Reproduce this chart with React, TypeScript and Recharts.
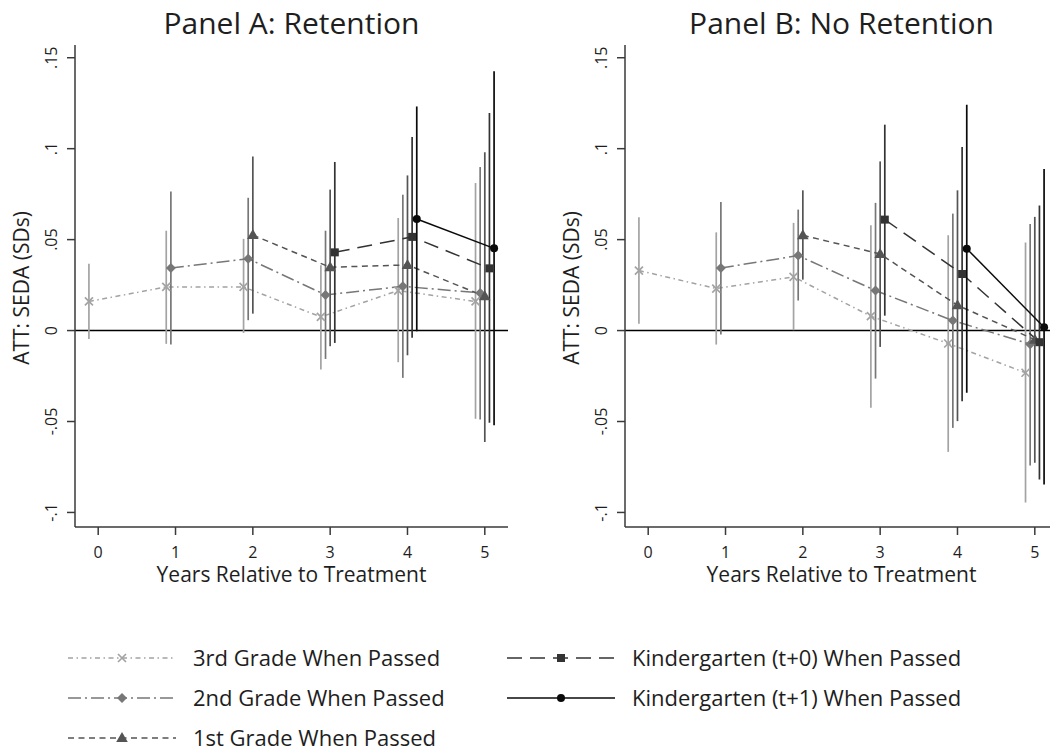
import { ComposedChart, Line, XAxis, YAxis, ErrorBar, ReferenceLine } from "recharts"

// series, in legend order
const SERIES_NAMES = [
  "3rd Grade When Passed",
  "2nd Grade When Passed",
  "1st Grade When Passed",
  "Kindergarten (t+0) When Passed",
  "Kindergarten (t+1) When Passed",
]
const SERIES_YEARS = [
  [0, 1, 2, 3, 4, 5],
  [1, 2, 3, 4, 5],
  [2, 3, 4, 5],
  [3, 4, 5],
  [4, 5],
]
const X_OFFSETS = [-0.12, -0.06, 0, 0.06, 0.12]

const YEAR_TICKS = [0, 1, 2, 3, 4, 5]
const Y_TICKS = [-0.1, -0.05, 0, 0.05, 0.1, 0.15]
const Y_TICK_LABELS = ["-.1", "-.05", "0", ".05", ".1", ".15"]

// Panel A: Retention
const retentionEst = [
  [0.016, 0.024, 0.024, 0.0075, 0.022, 0.016],
  [0.0344, 0.0395, 0.0196, 0.0243, 0.0207],
  [0.0525, 0.0348, 0.0361, 0.0188],
  [0.043, 0.0515, 0.0342],
  [0.0613, 0.0452],
]
const retentionLo = [
  [-0.0046, -0.0073, -0.0013, -0.0214, -0.0174, -0.0485],
  [-0.0077, 0.0057, -0.0156, -0.026, -0.0489],
  [0.0093, -0.0086, -0.0136, -0.0613],
  [-0.0068, -0.004, -0.0507],
  [-0.0004, -0.052],
]
const retentionHi = [
  [0.0368, 0.0549, 0.0504, 0.0359, 0.0619, 0.0811],
  [0.0765, 0.073, 0.0549, 0.0747, 0.0899],
  [0.0957, 0.0775, 0.0853, 0.098],
  [0.0927, 0.1064, 0.1196],
  [0.1232, 0.1425],
]

// Panel B: No Retention
const noRetentionEst = [
  [0.033, 0.0231, 0.0295, 0.0079, -0.0071, -0.0232],
  [0.0344, 0.0412, 0.022, 0.0055, -0.0075],
  [0.0524, 0.0421, 0.0139, -0.005],
  [0.061, 0.0311, -0.0064],
  [0.045, 0.0018],
]
const noRetentionLo = [
  [0.0037, -0.0077, 0.0002, -0.0425, -0.0667, -0.0945],
  [-0.0022, 0.0165, -0.0264, -0.0535, -0.0742],
  [0.028, -0.009, -0.0498, -0.0727],
  [0.0082, -0.0388, -0.0819],
  [-0.0342, -0.0846],
]
const noRetentionHi = [
  [0.0623, 0.054, 0.0592, 0.0579, 0.0524, 0.0484],
  [0.0707, 0.0665, 0.0702, 0.0643, 0.0586],
  [0.0771, 0.093, 0.0771, 0.0625],
  [0.1132, 0.1009, 0.0687],
  [0.1242, 0.0888],
]

const COLORS = ["#a3a3a3", "#777777", "#545454", "#333333", "#0a0a0a"]
const DASHES = ["5 3.5 1.5 3.5", "13 4 2 4", "6 4.5", "15 8", undefined]
const SHAPES = ["x", "diamond", "triangle", "square", "circle"]

const AXIS_COLOR = "#3a3a3a"
const TEXT_COLOR = "#1e1e1e"

function Marker({ shape, cx, cy, color }) {
  if (cx == null || cy == null) return null
  switch (shape) {
    case "x":
      return (
        <path
          d={`M${cx - 4},${cy - 4}L${cx + 4},${cy + 4}M${cx - 4},${cy + 4}L${cx + 4},${cy - 4}`}
          stroke={color}
          strokeWidth={1.7}
          fill="none"
        />
      )
    case "diamond":
      return <polygon points={`${cx},${cy - 5} ${cx + 5},${cy} ${cx},${cy + 5} ${cx - 5},${cy}`} fill={color} />
    case "triangle":
      return <polygon points={`${cx},${cy - 6} ${cx + 5.8},${cy + 4} ${cx - 5.8},${cy + 4}`} fill={color} />
    case "square":
      return <rect x={cx - 4} y={cy - 4} width={8} height={8} fill={color} />
    default:
      return <circle cx={cx} cy={cy} r={4} fill={color} />
  }
}

function YTick({ x, y, payload }) {
  const i = Y_TICKS.findIndex((t) => Math.abs(t - payload.value) < 1e-9)
  return (
    <text x={x} y={y} transform={`rotate(-90 ${x} ${y})`} textAnchor="middle" fontSize={16} fill={TEXT_COLOR}>
      {i >= 0 ? Y_TICK_LABELS[i] : payload.value}
    </text>
  )
}

function XTick({ x, y, payload }) {
  return (
    <text x={x} y={y} dy="0.71em" textAnchor="middle" fontSize={16} fill={TEXT_COLOR}>
      {payload.value}
    </text>
  )
}

function buildRows(est, lo, hi, s) {
  return SERIES_YEARS[s].map((yr, i) => ({
    x: yr + X_OFFSETS[s],
    y: est[s][i],
    err: [est[s][i] - lo[s][i], hi[s][i] - est[s][i]],
  }))
}

function Panel({ est, lo, hi }) {
  return (
    <ComposedChart width={540} height={600} margin={{ top: 45, right: 32, bottom: 13, left: 15 }}>
      <XAxis
        type="number"
        dataKey="x"
        domain={[-0.3, 5.3]}
        ticks={YEAR_TICKS}
        allowDataOverflow
        height={60}
        tickSize={8}
        tickMargin={12}
        stroke={AXIS_COLOR}
        strokeWidth={1.5}
        tick={<XTick />}
      />
      <YAxis
        type="number"
        domain={[-0.108, 0.157]}
        ticks={Y_TICKS}
        allowDataOverflow
        width={60}
        tickSize={8}
        tickMargin={10}
        stroke={AXIS_COLOR}
        strokeWidth={1.5}
        tick={<YTick />}
      />
      <ReferenceLine y={0} stroke="#000" strokeWidth={1.5} />
      {SERIES_NAMES.map((name, s) => (
        <Line
          key={name}
          name={name}
          data={buildRows(est, lo, hi, s)}
          dataKey="y"
          stroke={COLORS[s]}
          strokeWidth={1.5}
          strokeDasharray={DASHES[s]}
          isAnimationActive={false}
          dot={(p) => <Marker key={`${name}-${p.index}`} shape={SHAPES[s]} cx={p.cx} cy={p.cy} color={COLORS[s]} />}
          activeDot={false}
        >
          <ErrorBar dataKey="err" direction="y" width={0} stroke={COLORS[s]} strokeWidth={1.7} isAnimationActive={false} />
        </Line>
      ))}
    </ComposedChart>
  )
}

function Overlay() {
  const legendRows = SERIES_NAMES.map((name, s) => {
    const col = s < 3 ? 0 : 1
    const row = s < 3 ? s : s - 3
    const x0 = col === 0 ? 68 : 507
    const y = 658 + row * 40
    return (
      <g key={name}>
        <line x1={x0} x2={x0 + 108} y1={y} y2={y} stroke={COLORS[s]} strokeWidth={1.5} strokeDasharray={DASHES[s]} />
        <Marker shape={SHAPES[s]} cx={x0 + 54} cy={y} color={COLORS[s]} />
        <text x={x0 + 125} y={y + 8} fontSize={22} fill={TEXT_COLOR}>
          {name}
        </text>
      </g>
    )
  })

  return (
    <svg width={1050} height={754} style={{ position: "absolute", left: 0, top: 0, pointerEvents: "none" }}>
      <text x={291.5} y={33.5} textAnchor="middle" fontSize={30} fill={TEXT_COLOR}>Panel A: Retention</text>
      <text x={841.5} y={33.5} textAnchor="middle" fontSize={30} fill={TEXT_COLOR}>Panel B: No Retention</text>
      <text x={291.5} y={582} textAnchor="middle" fontSize={21} fill={TEXT_COLOR}>Years Relative to Treatment</text>
      <text x={841.5} y={582} textAnchor="middle" fontSize={21} fill={TEXT_COLOR}>Years Relative to Treatment</text>
      <text x={28.5} y={288} transform="rotate(-90 28.5 288)" textAnchor="middle" fontSize={21} fill={TEXT_COLOR}>ATT: SEDA (SDs)</text>
      <text x={578.5} y={288} transform="rotate(-90 578.5 288)" textAnchor="middle" fontSize={21} fill={TEXT_COLOR}>ATT: SEDA (SDs)</text>
      {legendRows}
    </svg>
  )
}

export default function App() {
  return (
    <div
      style={{
        position: "absolute",
        left: 0,
        top: 0,
        width: 1050,
        height: 754,
        overflow: "hidden",
        background: "#fff",
        fontFamily: '"Open Sans", sans-serif',
      }}
    >
      <div style={{ position: "absolute", left: 0, top: 0 }}>
        <Panel est={retentionEst} lo={retentionLo} hi={retentionHi} />
      </div>
      <div style={{ position: "absolute", left: 550, top: 0 }}>
        <Panel est={noRetentionEst} lo={noRetentionLo} hi={noRetentionHi} />
      </div>
      <Overlay />
    </div>
  )
}
